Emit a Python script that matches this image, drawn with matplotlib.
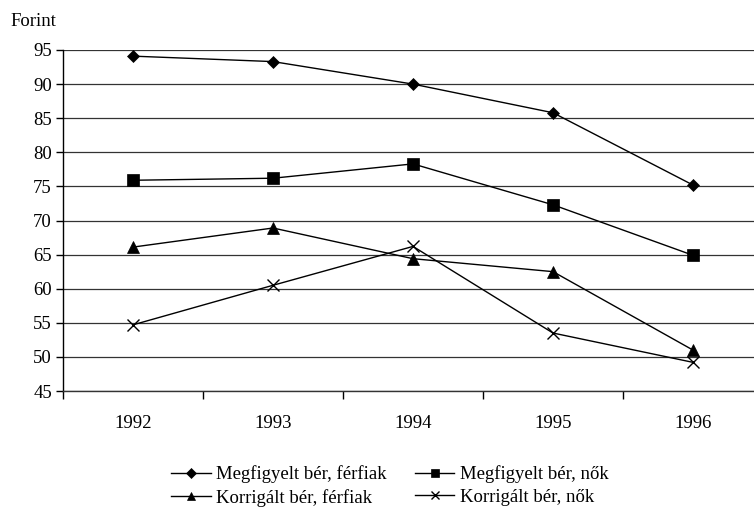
import matplotlib
matplotlib.use("Agg")
import matplotlib.pyplot as plt

years = ["1992", "1993", "1994", "1995", "1996"]
megf_ferfi = [94.1, 93.3, 90.0, 85.8, 75.2]
megf_no = [75.9, 76.2, 78.3, 72.3, 64.9]
korr_ferfi = [66.1, 68.9, 64.4, 62.5, 51.0]
korr_no = [54.7, 60.5, 66.2, 53.5, 49.2]
labels = ["Megfigyelt bér, férfiak", "Megfigyelt bér, nők",
          "Korrigált bér, férfiak", "Korrigált bér, nők"]
yticks = [45, 50, 55, 60, 65, 70, 75, 80, 85, 90, 95]

plt.rcParams['font.family'] = ['Liberation Serif', 'DejaVu Serif']
FS = 13.5

W, H = 754, 511
fig = plt.figure(figsize=(W / 100, H / 100), dpi=100)
left, right, top, bottom = 63, 763, 50, 391
ax = fig.add_axes([left / W, (H - bottom) / H, (right - left) / W, (bottom - top) / H])

x = list(range(len(years)))
series = [megf_ferfi, megf_no, korr_ferfi, korr_no]
markers = ['D', 's', '^', 'x']
msizes = [6, 8, 8, 8]
handles = []
for vals, m, ms, lab in zip(series, markers, msizes, labels):
    h, = ax.plot(x, vals, color='black', lw=1, marker=m, markersize=ms,
                 markeredgewidth=1 if m == 'x' else 0.5, markerfacecolor='black',
                 markeredgecolor='black', label=lab, clip_on=False, zorder=3)
    handles.append(h)

ax.set_xlim(-0.5, len(years) - 0.5)
ax.set_ylim(45, 95)
ax.set_yticks(yticks)
ax.set_yticklabels([str(v) for v in yticks], fontsize=FS)
ax.set_xticks([i - 0.5 for i in range(len(years) + 1)])
ax.set_xticklabels([])
ax.set_xticks(x, minor=True)
ax.set_xticklabels(years, minor=True, fontsize=FS)
ax.tick_params(axis='x', which='minor', length=0, pad=17)
ax.tick_params(axis='x', which='major', length=6, direction='out', width=1)
ax.tick_params(axis='y', length=5, direction='out', width=1, pad=3)

ax.yaxis.grid(True, color='#333333', lw=0.9)
ax.set_axisbelow(True)
for s in ['top', 'right']:
    ax.spines[s].set_visible(False)
ax.spines['left'].set_linewidth(1)
ax.spines['bottom'].set_linewidth(1)
ax.spines['bottom'].set_color('#333333')

fig.text(10 / W, 1 - 22 / H, "Forint", fontsize=FS, va='center', ha='left')

order = [0, 2, 1, 3]
leg = fig.legend([handles[i] for i in order], [labels[i] for i in order],
                 loc='center', bbox_to_anchor=(390 / W, 1 - 486 / H),
                 ncol=2, frameon=False, fontsize=FS, handlelength=2.1,
                 columnspacing=1.5, labelspacing=0.3, handletextpad=0.3,
                 borderpad=0)
for lh in leg.legend_handles:
    lh.set_markersize(5 if lh.get_marker() == 'D' else 6)

fig.savefig("out.png", dpi=100)
